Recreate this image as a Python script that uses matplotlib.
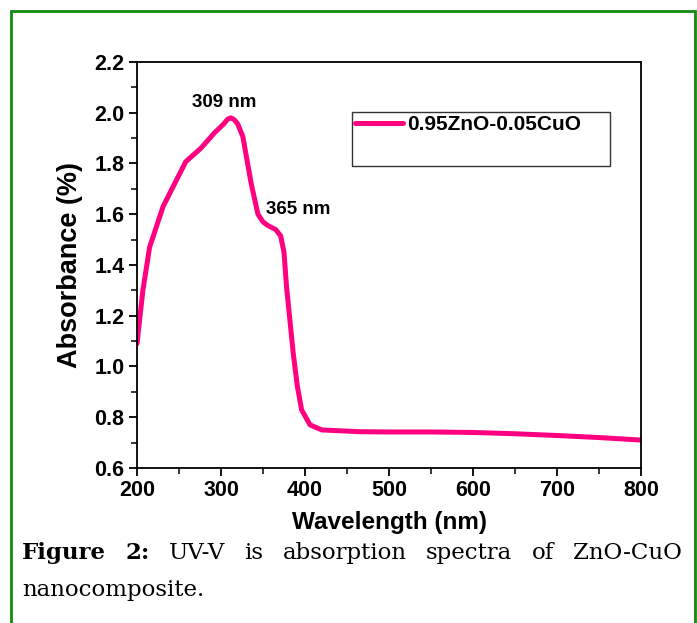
import numpy as np
import matplotlib
matplotlib.use("Agg")
import matplotlib.pyplot as plt
from matplotlib.lines import Line2D
from matplotlib.patches import Rectangle
from matplotlib.ticker import MultipleLocator

# UV-Vis spectrum
wavelength = [200, 207, 215, 231, 258, 276, 292, 303, 308, 312, 316, 320, 326, 336,
              344, 350, 356, 365, 371, 375, 378, 382, 386, 391, 396, 406, 420, 465,
              500, 550, 600, 650, 700, 750, 800]
absorbance = [1.09, 1.30, 1.47, 1.63, 1.807, 1.86, 1.92, 1.955, 1.975, 1.98, 1.972, 1.955,
              1.906, 1.72, 1.60, 1.57, 1.555, 1.54, 1.515, 1.45, 1.315, 1.183, 1.052,
              0.92, 0.829, 0.77, 0.75, 0.743, 0.742, 0.742, 0.740, 0.735, 0.728,
              0.72, 0.71]
series_label = "0.95ZnO-0.05CuO"
peaks = [(309, 1.98, "309 nm"), (365, 1.54, "365 nm")]
caption_words = ["Figure", "2:", "UV-V", "is", "absorption", "spectra", "of", "ZnO-CuO"]
caption_line2 = "nanocomposite."

plt.rcParams['font.family'] = ['Liberation Sans', 'DejaVu Sans']
plt.rcParams['font.weight'] = 'bold'

W, H = 697, 623
fig = plt.figure(figsize=(W / 100, H / 100), dpi=100)

# green frame round the figure
fig.patches.append(Rectangle((11 / W, -0.1), (695 - 11) / W, (612 / H) + 0.1,
                             transform=fig.transFigure, fill=False,
                             edgecolor='#138a13', linewidth=2))

ax = fig.add_axes([137 / W, 155 / H, 504 / W, 406 / H])
line, = ax.plot(wavelength, absorbance, color='#ff0080', lw=3.6,
                solid_joinstyle='round', solid_capstyle='round')

ax.set_xlim(200, 800)
ax.set_ylim(0.6, 2.2)
ax.xaxis.set_major_locator(MultipleLocator(100))
ax.xaxis.set_minor_locator(MultipleLocator(50))
ax.yaxis.set_major_locator(MultipleLocator(0.2))
ax.yaxis.set_minor_locator(MultipleLocator(0.1))
ax.yaxis.set_major_formatter(matplotlib.ticker.FormatStrFormatter('%.1f'))
ax.tick_params(which='major', direction='out', length=6, width=1.3, labelsize=15.5, pad=3)
ax.tick_params(which='minor', direction='out', length=4, width=1.1)
for s in ax.spines.values():
    s.set_linewidth(1.3)

ax.set_xlabel("Wavelength (nm)", fontsize=17.5, fontweight='bold', labelpad=7)
ax.set_ylabel("Absorbance (%)", fontsize=19.5, fontweight='bold', labelpad=8)

ax.annotate(peaks[0][2], (peaks[0][0], peaks[0][1]), xytext=(-3, 5),
            textcoords='offset points', ha='center', va='bottom', fontsize=13.5)
ax.annotate(peaks[1][2], (peaks[1][0], peaks[1][1]), xytext=(-7, 8),
            textcoords='offset points', ha='left', va='bottom', fontsize=13.5)

blank = Line2D([], [], color='none')
leg = ax.legend([line, blank], [series_label, ""], loc='upper left',
                bbox_to_anchor=(0.4266, 0.877, 0.512, 0.0), mode='expand',
                borderaxespad=0, borderpad=0.15, handlelength=2.3,
                handletextpad=0.2, labelspacing=0.45, fancybox=False,
                prop={'size': 15, 'weight': 'bold'})
leg.get_frame().set_edgecolor('black')
leg.get_frame().set_linewidth(1.0)

# justified caption, first line
cap_font = dict(family='DejaVu Serif', fontsize=16.5)
x_left, x_right, y1, y2 = 22 / W, 682 / W, 1 - 553 / H, 1 - 590 / H
texts = []
for i, w in enumerate(caption_words):
    weight = 'bold' if i < 2 else 'normal'
    texts.append(fig.text(0, y1, w, fontweight=weight, va='center', ha='left', **cap_font))
fig.canvas.draw()
r = fig.canvas.get_renderer()
widths = [t.get_window_extent(r).width / W for t in texts]
gap = (x_right - x_left - sum(widths)) / (len(texts) - 1)
x = x_left
for t, w in zip(texts, widths):
    t.set_x(x)
    x += w + gap
fig.text(x_left, y2, caption_line2, fontweight='normal', va='center', ha='left', **cap_font)

fig.savefig("out.png", dpi=100)
